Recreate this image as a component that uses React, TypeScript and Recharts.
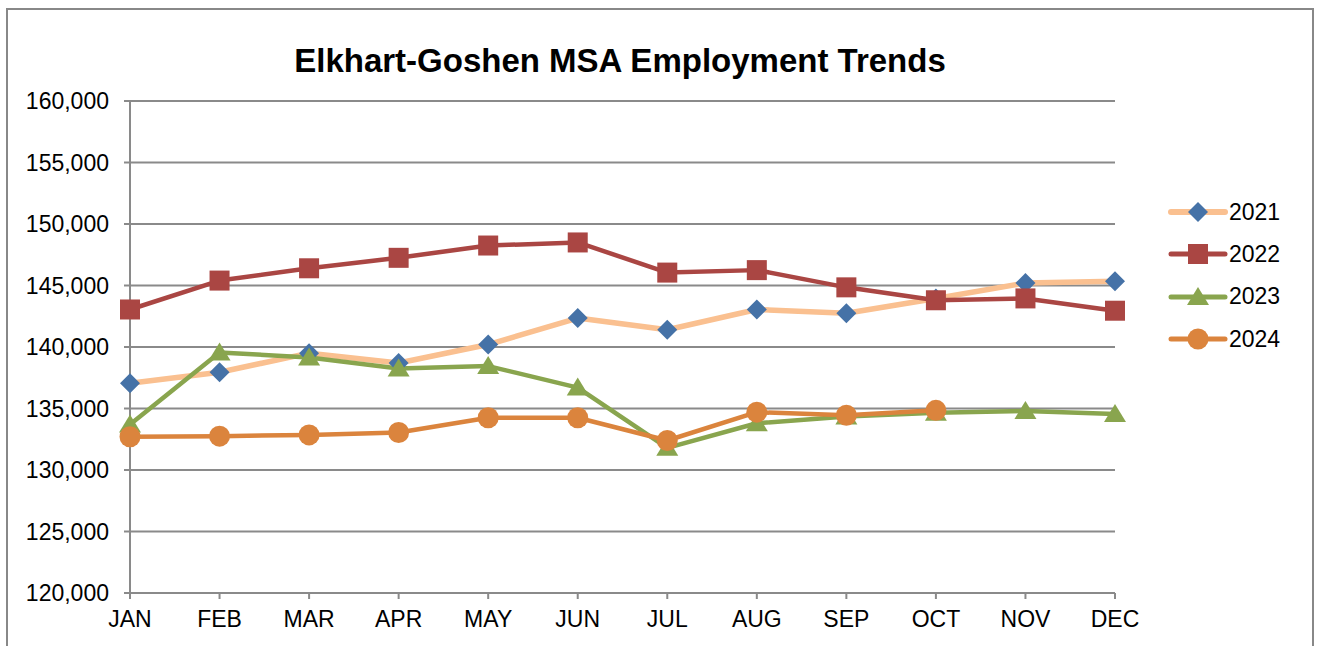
import { LineChart, Line, XAxis, YAxis, CartesianGrid, Legend } from "recharts"

const months = ["JAN", "FEB", "MAR", "APR", "MAY", "JUN", "JUL", "AUG", "SEP", "OCT", "NOV", "DEC"]
const y2021 = [137050, 137950, 139500, 138700, 140200, 142350, 141400, 143050, 142750, 143950, 145200, 145350]
const y2022 = [143050, 145400, 146400, 147250, 148250, 148500, 146050, 146250, 144850, 143800, 143950, 142950]
const y2023 = [133700, 139550, 139150, 138250, 138450, 136700, 131800, 133800, 134350, 134650, 134800, 134550]
const y2024 = [132700, 132750, 132850, 133050, 134250, 134250, 132400, 134700, 134450, 134850, null, null]
const yTicks = [120000, 125000, 130000, 135000, 140000, 145000, 150000, 155000, 160000]

const font = "'Liberation Sans', Arial, sans-serif"

type Shape = "diamond" | "square" | "triangle" | "circle"

const series: { key: string; line: string; marker: string; shape: Shape; width: number }[] = [
  { key: "2021", line: "#fac090", marker: "#4572a7", shape: "diamond", width: 5.5 },
  { key: "2022", line: "#aa4643", marker: "#aa4643", shape: "square", width: 4.5 },
  { key: "2023", line: "#89a54e", marker: "#89a54e", shape: "triangle", width: 4.5 },
  { key: "2024", line: "#db843d", marker: "#db843d", shape: "circle", width: 4.5 },
]

const data = months.map((m, i) => ({
  month: m,
  "2021": y2021[i],
  "2022": y2022[i],
  "2023": y2023[i],
  "2024": y2024[i],
}))

function Marker({ cx, cy, shape, color }: { cx: number; cy: number; shape: Shape; color: string }) {
  if (shape === "diamond")
    return <polygon points={`${cx},${cy - 10} ${cx + 10},${cy} ${cx},${cy + 10} ${cx - 10},${cy}`} fill={color} />
  if (shape === "square") return <rect x={cx - 10} y={cy - 10} width={20} height={20} fill={color} />
  if (shape === "triangle")
    return <polygon points={`${cx},${cy - 10} ${cx + 11},${cy + 8} ${cx - 11},${cy + 8}`} fill={color} />
  return <circle cx={cx} cy={cy} r={10.5} fill={color} />
}

function LegendBox() {
  return (
    <div>
      {series.map((s) => (
        <div key={s.key} style={{ height: 42.3, display: "flex", alignItems: "center" }}>
          <svg width={62} height={30}>
            <line x1={4} y1={15} x2={58} y2={15} stroke={s.line} strokeWidth={s.width + 0.5} strokeLinecap="round" />
            <Marker cx={31} cy={15} shape={s.shape} color={s.marker} />
          </svg>
          <span style={{ fontFamily: font, fontSize: 23, color: "#000" }}>{s.key}</span>
        </div>
      ))}
    </div>
  )
}

export default function App() {
  return (
    <div
      style={{
        position: "fixed",
        left: 6,
        top: 8,
        width: 1304,
        height: 660,
        border: "2px solid #888",
        background: "#fff",
      }}
    >
      <div
        style={{
          position: "absolute",
          left: 212,
          top: 32,
          width: 800,
          textAlign: "center",
          fontFamily: font,
          fontWeight: "bold",
          fontSize: 33,
          color: "#000",
        }}
      >
        Elkhart-Goshen MSA Employment Trends
      </div>
      <LineChart width={1304} height={650} data={data} margin={{ top: 91, right: 57, left: 0, bottom: 27 }}>
        <CartesianGrid vertical={false} stroke="#8a8a8a" strokeWidth={2} />
        <XAxis
          dataKey="month"
          height={40}
          stroke="#8a8a8a"
          strokeWidth={2}
          tickSize={6}
          tickMargin={12}
          tick={{ fill: "#000", fontSize: 23, fontFamily: font }}
        />
        <YAxis
          width={122}
          domain={[120000, 160000]}
          ticks={yTicks}
          interval={0}
          stroke="#8a8a8a"
          strokeWidth={2}
          tickSize={6}
          tickMargin={15}
          tick={{ fill: "#000", fontSize: 23, fontFamily: font }}
          tickFormatter={(v: number) => v.toLocaleString("en-US")}
        />
        <Legend
          layout="vertical"
          align="right"
          verticalAlign="top"
          content={() => <LegendBox />}
          wrapperStyle={{ left: 1159, top: 181, width: 140 }}
        />
        {series.map((s) => (
          <Line
            key={s.key}
            dataKey={s.key}
            stroke={s.line}
            strokeWidth={s.width}
            strokeLinejoin="round"
            isAnimationActive={false}
            connectNulls={false}
            dot={(p: any) =>
              p.cy == null || p.value == null ? (
                <g key={`${s.key}-${p.index}`} />
              ) : (
                <Marker key={`${s.key}-${p.index}`} cx={p.cx} cy={p.cy} shape={s.shape} color={s.marker} />
              )
            }
            activeDot={false}
          />
        ))}
      </LineChart>
    </div>
  )
}
